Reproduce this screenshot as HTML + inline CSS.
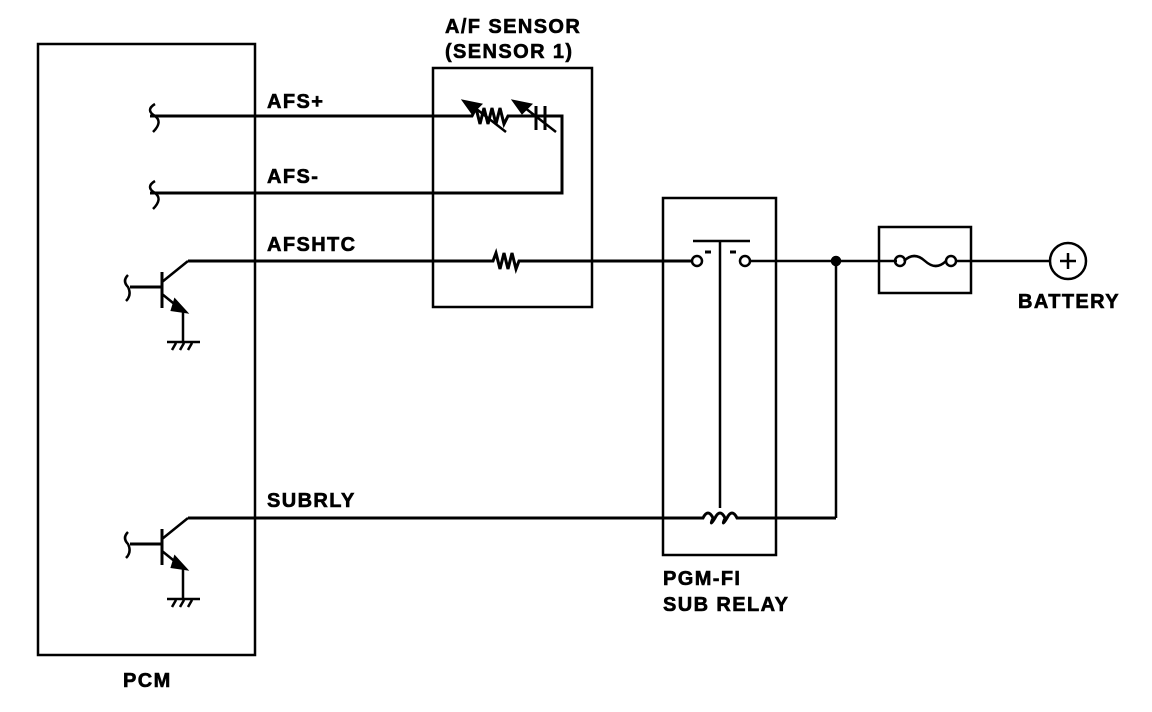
<!DOCTYPE html>
<html><head><meta charset="utf-8"><style>
html,body{margin:0;padding:0;background:#fff;}
svg{display:block;}
text{font-family:"Liberation Sans",Arial,sans-serif;font-weight:bold;font-size:20px;letter-spacing:1.4px;fill:#000;stroke:#000;stroke-width:0.6px;}
</style></head><body>
<svg width="1152" height="712" viewBox="0 0 1152 712" xmlns="http://www.w3.org/2000/svg">
<g fill="none" stroke="#000" stroke-width="2.5">
<!-- boxes -->
<rect x="38" y="44" width="217" height="611"/>
<rect x="433" y="68" width="159" height="239"/>
<rect x="663" y="198" width="113" height="357"/>
<rect x="879" y="227" width="92" height="66"/>
<circle cx="1068" cy="261" r="18"/>
<path d="M1060 261h16M1068 253v16"/>
<!-- AFS+ -->
<path d="M150 116H472l4 -8 4 16 4 -16 4 16 4 -16 4 16 4 -16 4 16 4 -8H562V193H150" stroke-width="3"/>
<path d="M536 106v24M545 106v24" stroke-width="3"/>
<path d="M470 104l36 28M520 104l36 28" stroke-width="2.5"/>
<path d="M462 100l20 4 -10 10z M512 100l20 4 -10 10z" fill="#000" stroke-width="1"/>
<!-- AFSHTC -->
<path d="M188 261H493l3 -8 4 16 4 -16 4 16 4 -16 4 16 3 -8H692" stroke-width="3"/>
<path d="M750 261H897M904 261q10 -10 21 0t21 0M955 261H1050"/>
<circle cx="697" cy="261" r="5"/><circle cx="745" cy="261" r="5"/>
<circle cx="900" cy="261" r="5"/><circle cx="951" cy="261" r="5"/>
<circle cx="836" cy="261" r="4" fill="#000"/>
<path d="M693 241H750M720 241V508"/>
<path d="M711 252h-6M736 252h-6" stroke-width="3"/>
<path d="M836 261V518"/>
<!-- SUBRLY -->
<path d="M188 518H703q5 -10 10 0q-4 10 2 0q5 -10 10 0q-4 10 2 0q5 -10 10 0H836" stroke-width="3"/>
<!-- squiggles -->
<path d="M155 104q-10 6 0 12q8 6 -2 16M155 181q-10 6 0 12q8 6 -2 16"/>
<!-- transistor 1 -->
<g id="t1">
<path d="M130 287H162M162 272V308" stroke-width="3"/>
<path d="M162 282L188 261M162 294L183 311V342"/>
<path d="M175 300l11 12 -14 -2z" fill="#000"/>
<path d="M167 342H200M172 350l4 -7M180 350l4 -7M188 350l4 -7"/>
<path d="M128 275q-6 6 0 12q4 8 -2 14"/>
</g>
<use href="#t1" transform="translate(0,257)"/>
</g>
<text x="267" y="108">AFS+</text>
<text x="267" y="183">AFS-</text>
<text x="267" y="251">AFSHTC</text>
<text x="267" y="507">SUBRLY</text>
<text x="445" y="33">A/F SENSOR</text>
<text x="445" y="58">(SENSOR 1)</text>
<text x="663" y="585">PGM-FI</text>
<text x="663" y="611">SUB RELAY</text>
<text x="123" y="687">PCM</text>
<text x="1018" y="308">BATTERY</text>
</svg>
</body></html>
